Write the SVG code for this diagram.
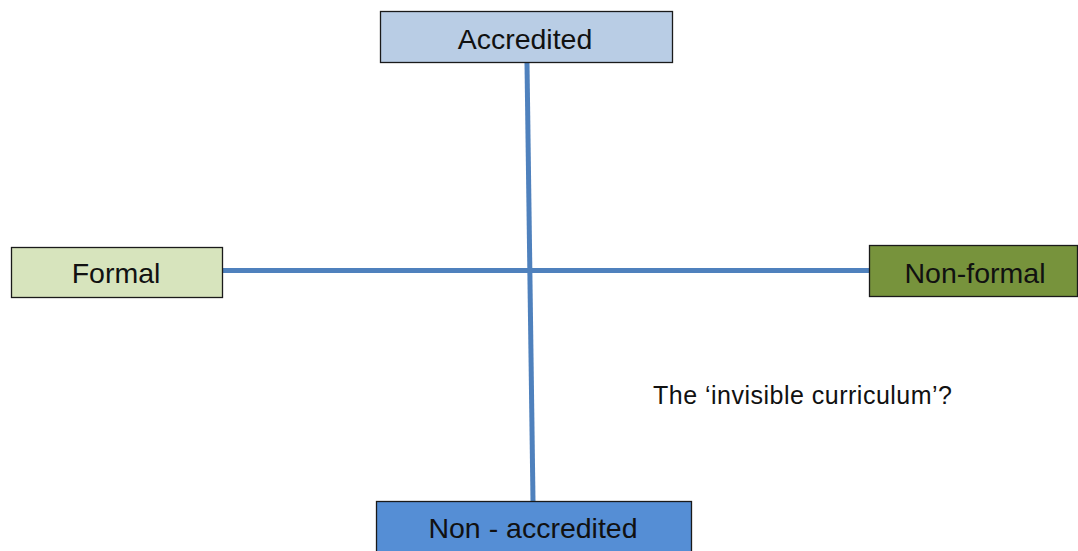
<svg xmlns="http://www.w3.org/2000/svg" width="1078" height="551" viewBox="0 0 1078 551">
  <style>
    .box { stroke: #1a1a1a; stroke-width: 1.3; }
    .label { font-family: "Liberation Sans", Arial, sans-serif; font-size: 28.5px; fill: #111; text-anchor: middle; }
    .axis { stroke: #4f81bd; stroke-width: 5; fill: none; }
    .note { font-family: "Liberation Sans", Arial, sans-serif; font-size: 25px; fill: #111; }
  </style>
  <rect width="1078" height="551" fill="#ffffff"/>
  <g id="connectors">
    <line class="axis" x1="527" y1="63" x2="533" y2="501"/>
    <line class="axis" x1="222" y1="270.5" x2="869" y2="270.5"/>
  </g>
  <g id="accredited">
    <rect class="box" x="380.5" y="11.5" width="292" height="51" fill="#b9cde5"/>
    <text class="label" x="525" y="49">Accredited</text>
  </g>
  <g id="formal">
    <rect class="box" x="11.5" y="247.5" width="211" height="50" fill="#d7e4bd"/>
    <text class="label" x="116" y="283">Formal</text>
  </g>
  <g id="non-formal">
    <rect class="box" x="869.5" y="245.5" width="208" height="51" fill="#77933c"/>
    <text class="label" x="975" y="283">Non-formal</text>
  </g>
  <g id="non-accredited">
    <rect class="box" x="376.5" y="501.5" width="315" height="60" fill="#558ed5"/>
    <text class="label" x="533" y="538">Non - accredited</text>
  </g>
  <g id="note">
    <text class="note" x="653" y="404" textLength="299" lengthAdjust="spacing">The ‘invisible curriculum’?</text>
  </g>
</svg>
